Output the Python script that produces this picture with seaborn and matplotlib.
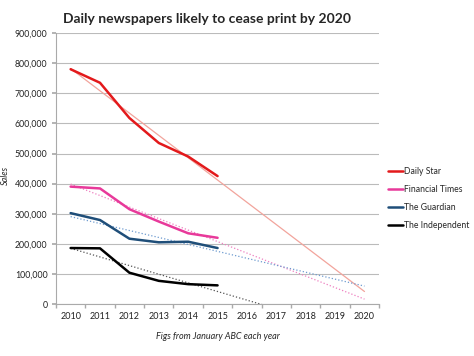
import numpy as np
import pandas as pd
import matplotlib
matplotlib.use("Agg")
import matplotlib.pyplot as plt
import seaborn as sns

years = [2010, 2011, 2012, 2013, 2014, 2015]
forecast_years = [2010, 2011, 2012, 2013, 2014, 2015, 2016, 2017, 2018, 2019, 2020]
daily_star = [780000, 735000, 618000, 535000, 490000, 425000]
financial_times = [390000, 384000, 315000, 274000, 235000, 220000]
the_guardian = [302000, 279000, 217000, 205000, 207000, 186000]
the_independent = [186000, 185000, 104000, 77000, 66000, 62000]
series_names = ["Daily Star", "Financial Times", "The Guardian", "The Independent"]
colors = ["#E3191B", "#E8399A", "#1F4E79", "#000000"]
trend_colors = ["#F2A49C", "#EE7FC0", "#6E9BD0", "#555555"]
trend_styles = ["-", ":", ":", ":"]

sns.set_theme(style="white")
plt.rcParams["font.family"] = ["Lato", "DejaVu Sans"]

fig = plt.figure(figsize=(4.74, 3.56), dpi=100)
ax = fig.add_axes([0.118, 0.146, 0.682, 0.761])

values = [daily_star, financial_times, the_guardian, the_independent]
df = pd.DataFrame({
    "Year": np.tile(years, 4),
    "Sales": np.concatenate(values),
    "Paper": np.repeat(series_names, len(years)),
})

# trendlines (linear, forecast to 2020)
fy = np.array(forecast_years, dtype=float)
for vals, c, ls in zip(values, trend_colors, trend_styles):
    m, b = np.polyfit(years, vals, 1)
    tdf = pd.DataFrame({"Year": fy, "Trend": m * fy + b})
    sns.lineplot(data=tdf, x="Year", y="Trend", ax=ax, color=c, linestyle=ls,
                 linewidth=0.9, legend=False, zorder=2)

sns.lineplot(data=df, x="Year", y="Sales", hue="Paper", hue_order=series_names,
             palette=colors, linewidth=1.8, ax=ax, zorder=3)

ax.set_xlim(2009.5, 2020.5)
ax.set_ylim(0, 900000)
ax.set_xticks(forecast_years)
ax.set_xticklabels([str(y) for y in forecast_years], fontsize=6.5, color="#222222")
ax.set_xticks(np.arange(2009.5, 2021.0, 1.0), minor=True)
ax.tick_params(axis="x", which="major", length=0, pad=6)
ax.tick_params(axis="x", which="minor", length=3, color="#AAAAAA", bottom=True)
yt = np.arange(0, 900001, 100000)
ax.set_yticks(yt)
ax.set_yticklabels(["0" if v == 0 else f"{v:,}" for v in yt], fontsize=6.3, color="#222222")
ax.tick_params(axis="y", length=3, color="#AAAAAA", left=True, pad=3)
ax.grid(axis="y", color="#BBBBBB", linewidth=0.8)
ax.grid(axis="x", visible=False)
for s in ["top", "right"]:
    ax.spines[s].set_visible(False)
for s in ["left", "bottom"]:
    ax.spines[s].set_color("#AAAAAA")
    ax.spines[s].set_linewidth(0.8)

ax.set_xlabel("Figs from January ABC each year", fontsize=6.5, style="italic", labelpad=8)
ax.set_ylabel("Sales", fontsize=6.5, style="italic")
ax.yaxis.set_label_coords(-0.142, 0.476)

leg = ax.legend(loc="center left", bbox_to_anchor=(1.01, 0.39), frameon=False,
                fontsize=6.2, handlelength=1.8, handletextpad=0.1, labelspacing=1.05,
                borderaxespad=0.2)
for line in leg.get_lines():
    line.set_linewidth(1.8)

fig.text(0.437, 0.948, "Daily newspapers likely to cease print by 2020",
         ha="center", va="center", fontsize=10, fontweight="bold")

fig.savefig("out.png", dpi=100)
